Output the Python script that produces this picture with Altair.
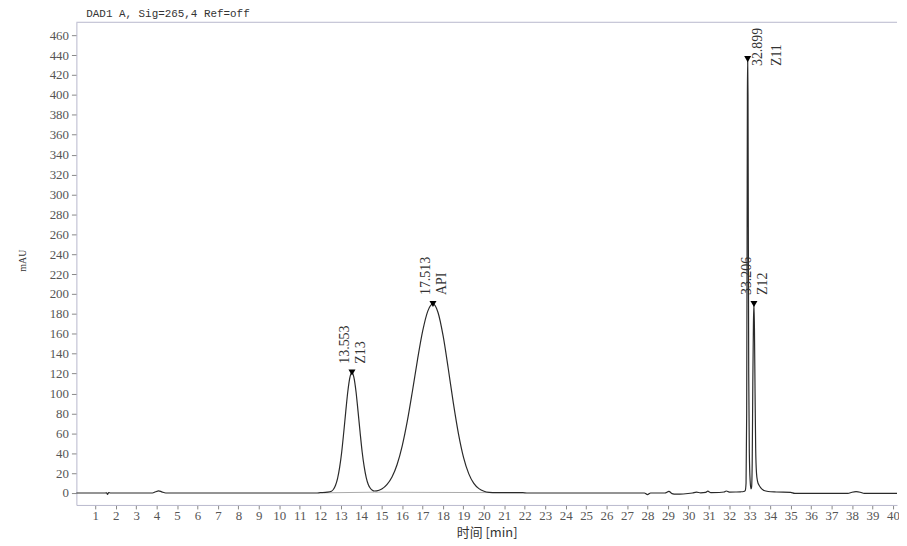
import altair as alt
import pandas as pd

# chromatogram signal (time in min, absorbance in mAU)
times = [0.08, 1.5, 1.56, 1.6, 1.66, 1.75, 3.8, 3.95, 4.1, 4.25, 4.45, 11.8, 12.0, 12.35, 12.55,
         12.65, 12.75, 12.85, 12.95, 13.05, 13.15, 13.25, 13.35, 13.45, 13.55, 13.65, 13.75, 13.85,
         13.95, 14.05, 14.15, 14.25, 14.35, 14.45, 14.55, 14.65, 14.76, 15.01, 15.26, 15.51, 15.76,
         16.01, 16.26, 16.51, 16.76, 17.01, 17.26, 17.51, 17.76, 18.01, 18.26, 18.51, 18.76, 19.01,
         19.26, 19.51, 19.76, 20.01, 20.26, 20.6, 21.9, 22.1, 27.85, 28.0, 28.15, 28.85, 29.05, 29.2,
         29.4, 29.75, 30.2, 30.4, 30.6, 30.85, 30.95, 31.1, 31.5, 31.75, 31.85, 32.0, 32.3, 32.55,
         32.7, 32.78, 32.82, 32.85, 32.87, 32.885, 32.899, 32.915, 32.93, 32.95, 32.98, 33.02, 33.06,
         33.09, 33.12, 33.15, 33.18, 33.206, 33.23, 33.26, 33.29, 33.33, 33.38, 33.45, 33.55, 33.7,
         33.9, 34.3, 35.0, 35.2, 37.8, 38.0, 38.2, 38.4, 38.6, 40.2]
signal = [0, 0, 0.2, -1.5, 0.4, 0, 0, 1.2, 2.2, 1.2, 0, 0, 0.3, 0.8, 1.8,
          3.8, 7.8, 14.7, 25.7, 41, 60.8, 82, 102, 116, 121, 116, 102, 82,
          61, 41.5, 26.5, 15.5, 8.5, 4.8, 2.8, 2.0, 2.1, 4.0, 8.4, 16.1, 28.7,
          47.4, 72.4, 102.5, 134.3, 162.8, 182.8, 190, 181.4, 157.8, 125.1, 90.3, 59.5, 35.6,
          19.5, 9.7, 4.4, 1.8, 0.7, 0.3, 0.3, 0, 0, -1.6, 0, 0, 1.6, -0.6,
          -1.2, -1.0, 0, 0.8, 0.2, 0.6, 1.8, 0.4, 0.5, 1.0, 2.0, 0.9, 1.0, 1.2,
          1.5, 2.5, 10, 80, 250, 400, 436, 400, 270, 120, 40, 12, 4,
          6, 30, 110, 170, 190, 165, 100, 45, 20, 12, 8, 5, 2.5,
          1.5, 1.0, 0.6, -0.4, -0.4, 0.8, 1.3, 0.8, -0.4, -0.4]

# integration baselines
base_seg = ["a", "a", "b", "b"]
base_t = [12.2, 14.65, 14.65, 21.9]
base_v = [0.2, 0.8, 0.8, 0.3]

# peak annotations
peak_times = [13.553, 17.513, 32.899, 33.206]
peak_heights = [121, 190, 436, 190]
peak_names = ["Z13", "API", "Z11", "Z12"]
peak_labels = ["13.553", "17.513", "32.899", "33.206"]

chart_title = ["DAD1 A, Sig=265,4 Ref=off"]

x_ticks = list(range(1, 41))
y_ticks = list(range(0, 461, 20))

trace = pd.DataFrame({"t": times, "v": signal})
bases = pd.DataFrame({"t": base_t, "v": base_v, "seg": base_seg})
peaks = pd.DataFrame({"t": peak_times, "v": peak_heights, "name": peak_names, "label": peak_labels})
one_row = pd.DataFrame({"title": chart_title})

W, H = 828, 487

x_enc = alt.X("t:Q", scale=alt.Scale(domain=[0.08, 40.2], nice=False, zero=False),
              axis=alt.Axis(values=x_ticks, title="时间 [min]", titleFont="Noto Sans CJK SC",
                            titleFontSize=13, titleFontWeight="normal", titleColor="#333",
                            titleY=28, titleBaseline="middle",
                            labelFont="Liberation Serif", labelFontSize=13, labelColor="#555",
                            labelPadding=1, tickSize=4, tickColor="#888", domainColor="#b8b8cc",
                            grid=False, labelOverlap=False, labelFlush=False, labelBound=False))
y_enc = alt.Y("v:Q", scale=alt.Scale(domain=[-12, 473], nice=False, zero=False),
              axis=alt.Axis(values=y_ticks, title="mAU", titleFont="Liberation Serif",
                            titleFontSize=10, titleFontWeight="normal", titleColor="#333",
                            titleX=-54, titleY=240, titleAngle=270, titleAlign="center",
                            titleBaseline="middle",
                            labelFont="Liberation Serif", labelFontSize=13, labelColor="#555",
                            labelPadding=3, tickSize=5, tickColor="#888", domainColor="#b8b8cc",
                            grid=False, labelOverlap=False, labelFlush=False, labelBound=False))

line = alt.Chart(trace).mark_line(color="#2a2a2a", strokeWidth=1.2, interpolate="monotone").encode(
    x=x_enc, y=y_enc)

baseline = alt.Chart(bases).mark_line(color="#aaaaaa", strokeWidth=1).encode(
    x=x_enc, y=y_enc, detail="seg:N")

markers = alt.Chart(peaks).mark_point(shape="triangle-down", filled=True, size=50,
                                      color="black", opacity=1).encode(x=x_enc, y=y_enc)

normal = alt.Chart(peaks).transform_filter("datum.name != 'Z11'")
z11 = alt.Chart(peaks).transform_filter("datum.name == 'Z11'")

txt = dict(angle=270, align="left", font="Liberation Serif", fontSize=14, color="#333")

time_lbl = normal.mark_text(baseline="alphabetic", dx=9, dy=-3, **txt).encode(
    x=x_enc, y=y_enc, text="label:N")
name_lbl = normal.mark_text(baseline="top", dx=9, dy=2, **txt).encode(
    x=x_enc, y=y_enc, text="name:N")
z11_time = z11.mark_text(baseline="top", dx=-7, dy=3, **txt).encode(
    x=x_enc, y=y_enc, text="label:N")
z11_name = z11.mark_text(baseline="top", dx=-7, dy=23, **txt).encode(
    x=x_enc, y=y_enc, text="name:N")

top_rule = alt.Chart(one_row).mark_rule(color="#b8b8cc", strokeWidth=1).encode(
    x=alt.value(0), x2=alt.value(W), y=alt.value(0))

title_txt = alt.Chart(one_row).mark_text(align="left", baseline="middle", font="Liberation Mono",
                                         fontSize=11, color="#333").encode(
    x=alt.value(10), y=alt.value(-8), text="title:N")

chart = alt.layer(baseline, line, markers, time_lbl, name_lbl, z11_time, z11_name,
                  top_rule, title_txt).properties(
    width=W, height=H,
    autosize=alt.AutoSizeParams(type="none"),
    padding={"left": 69, "top": 12, "right": 2, "bottom": 38},
    background="white",
).configure_view(stroke=None)

chart.save("out.html", embed_options={"renderer": "svg", "actions": False})
